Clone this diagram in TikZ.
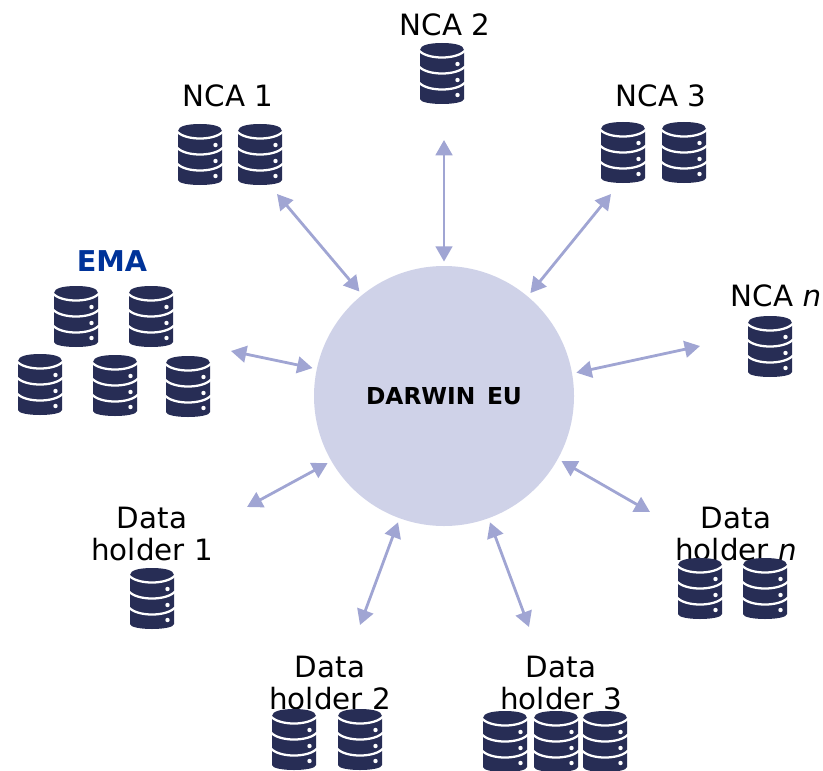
\documentclass[tikz,border=0pt]{standalone}
\usepackage{fontspec}
\setmainfont{DejaVu Sans}
\usetikzlibrary{arrows.meta}
\definecolor{dbcol}{HTML}{272D55}
\definecolor{hubcol}{HTML}{CFD2E8}
\definecolor{linkcol}{HTML}{A0A5D3}
\definecolor{emacol}{HTML}{003399}
\tikzset{
  x=0.75pt,y=-0.75pt,
  lbl/.style={font=\fontsize{22}{23.5}\selectfont,align=center,inner sep=0pt,text=black},
  link/.style={draw=linkcol,line width=2.1pt,{Triangle[length=11.5pt,width=12.5pt]}-{Triangle[length=11.5pt,width=12.5pt]}},
  band/.style={draw=white,line width=1.7pt},
  pics/db/.style={code={
    \fill[dbcol] (0,7) .. controls (0,2) and (10,0) .. (22,0) .. controls (34,0) and (44,2) .. (44,7)
      -- (44,56) .. controls (44,59) and (34,61) .. (22,61) .. controls (10,61) and (0,59) .. (0,56) -- cycle;
    \foreach \d in {0,16,32}{
      \draw[band] (-1,7.5+\d) .. controls (3,12+\d) and (12,14.5+\d) .. (22,14.5+\d) .. controls (32,14.5+\d) and (41,12+\d) .. (45,7.5+\d);
    }
    \foreach \d in {21,37,52}{ \fill[white] (37.5,\d) circle[radius=2.2]; }
  }}
}
\begin{document}
\begin{tikzpicture}
\useasboundingbox (0,0) rectangle (823,770);
\node[circle,fill=hubcol,minimum size=195pt,inner sep=0pt,outer sep=3.3pt,font=\bfseries\fontsize{17.5}{20}\selectfont] (hub) at (444,396) {DARWIN\hspace{0.15em} EU};

\node[lbl] (nca1) at (228,96) {NCA 1};
\node[lbl] (nca2) at (445,25) {NCA 2};
\node[lbl] (nca3) at (661,96) {NCA 3};
\node[lbl] (ncan) at (776,296) {NCA \textit{n}};
\node[lbl,font=\bfseries\fontsize{21.5}{23.5}\selectfont,text=emacol] (ema) at (112,261) {EMA};
\node[lbl] (dh1) at (152,534) {Data\\holder 1};
\node[lbl] (dh2) at (330,683) {Data\\holder 2};
\node[lbl] (dh3) at (561,683) {Data\\holder 3};
\node[lbl] (dhn) at (736,534) {Data\\holder \textit{n}};

\coordinate (e1) at (277,194);
\coordinate (e2) at (444,140);
\coordinate (e3) at (611,194);
\coordinate (e4) at (700,346);
\coordinate (e5) at (650,512);
\coordinate (e6) at (529,627);
\coordinate (e7) at (360,625);
\coordinate (e8) at (247,507);
\coordinate (e9) at (231,351);

\draw[link] (e1) -- (hub.129.3);
\draw[link] (e2) -- (hub.90);
\draw[link] (e3) -- (hub.50.7);
\draw[link] (e4) -- (hub.10.2);
\draw[link] (e5) -- (hub.-29);
\draw[link] (e6) -- (hub.-70.3);
\draw[link] (e7) -- (hub.-110);
\draw[link] (e8) -- (hub.-150.7);
\draw[link] (e9) -- (hub.168.8);

\foreach \p/\q in {178/124,238/124,420/43,601/122,662/122,748/316,
  54/286,129/286,18/354,93/355,166/356,130/568,678/558,743/558,
  272/709,338/709,483/711,534/711,583/711}{
  \pic at (\p,\q) {db};
}
\end{tikzpicture}
\end{document}
